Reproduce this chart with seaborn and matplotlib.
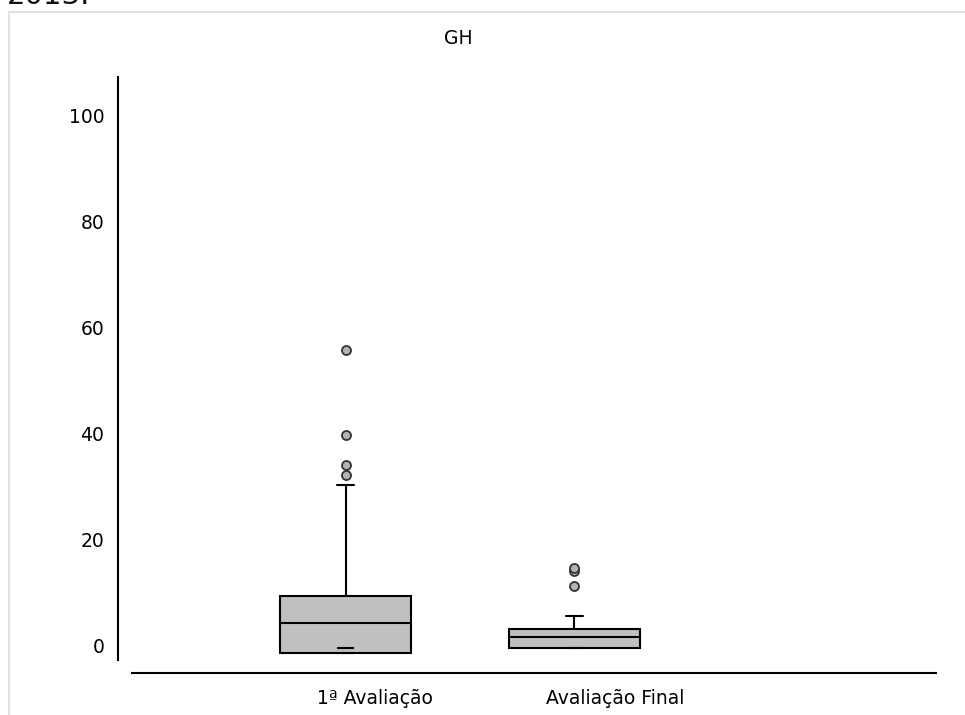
import matplotlib
matplotlib.use("Agg")
import matplotlib.pyplot as plt
import matplotlib.transforms as mtransforms
from matplotlib.patches import Rectangle
import numpy as np
import pandas as pd
import seaborn as sns

# ---- data ----
categories = ["1ª Avaliação", "Avaliação Final"]
grupo1 = [-1.26, -1.26, -1.26, -1.26, -1.26, -1.26, 0.5, 1.5, 2.5, 3.5, 4.27,
          5.0, 6.5, 7.5, 8.5, 9.47, 30.4, 32.2, 34.1, 39.7, 55.7]
grupo2 = [-0.3, -0.3, -0.3, -0.3, -0.3, 0.3, 0.8, 1.2, 1.7, 2.2, 2.6, 2.9,
          3.2, 5.7, 11.3, 14.2, 14.6]
lower_cap_1 = -0.3          # lower whisker cap drawn inside box 1
y_ticks = [0, 20, 40, 60, 80, 100]
title = "GH"
header = "2013."

df = pd.DataFrame({
    "grupo": [categories[0]] * len(grupo1) + [categories[1]] * len(grupo2),
    "valor": grupo1 + grupo2,
})

sns.set_style("white")
plt.rcParams["font.family"] = ["DejaVu Sans"]
plt.rcParams["font.size"] = 13.5
plt.rcParams["text.color"] = "black"
plt.rcParams["xtick.color"] = "black"
plt.rcParams["ytick.color"] = "black"
plt.rcParams["xtick.labelcolor"] = "black"
plt.rcParams["ytick.labelcolor"] = "black"

W, H = 965, 715
fig = plt.figure(figsize=(W / 100, H / 100), dpi=100)

# light frame around the chart area
frame = Rectangle((9 / W, -0.05), 1.1, (H - 11.7) / H + 0.05,
                  transform=fig.transFigure, fill=False,
                  edgecolor="#dde2e6", linewidth=1.5)
fig.patches.append(frame)

fig.text(7 / W, (H - 4) / H, header, fontsize=21, color="#111111",
         ha="left", va="baseline")
fig.text(458 / W, (H - 38) / H, title, ha="center", va="center",
         fontsize=13.5, color="black")

ax = fig.add_axes([131.7 / W, (H - 672.7) / H, (936 - 131.7) / W, (672.7 - 77) / H])

box_w = 0.572
cap_w = 0.077
sns.boxplot(data=df, x="grupo", y="valor", order=categories, ax=ax,
            color="#c0c0c0", saturation=1, width=box_w, whis=2.0,
            linecolor="black", linewidth=1.5, capwidths=cap_w,
            flierprops=dict(marker="o", markersize=6.5,
                            markerfacecolor="#b4b4b4",
                            markeredgecolor="#333333",
                            markeredgewidth=1.3))

ax.hlines(lower_cap_1, 0 - cap_w / 2, 0 + cap_w / 2, color="black",
          linewidth=1.5, zorder=5)

ax.set_xlim(-0.934, 2.579)
ax.set_ylim(-5.03, 107.16)
ax.set_yticks(y_ticks)
ax.set_yticklabels([str(v) for v in y_ticks])
ax.set_xlabel("")
ax.set_ylabel("")

for s in ["top", "right"]:
    ax.spines[s].set_visible(False)
ax.spines["left"].set_bounds(-2.6, 107.16)
ax.spines["left"].set_position(("outward", 13.4 * 0.72))
ax.spines["left"].set_linewidth(1.5)
ax.spines["bottom"].set_linewidth(1.5)
ax.spines["left"].set_color("black")
ax.spines["bottom"].set_color("black")

ax.tick_params(axis="y", length=0, pad=10, labelcolor="black")
ax.tick_params(axis="x", length=0, pad=12, labelcolor="black")
offset = mtransforms.ScaledTranslation(-28.5 / 100, 0, fig.dpi_scale_trans)
for lab in ax.get_xticklabels():
    lab.set_horizontalalignment("left")
    lab.set_transform(lab.get_transform() + offset)

fig.savefig("out.png", dpi=100)
